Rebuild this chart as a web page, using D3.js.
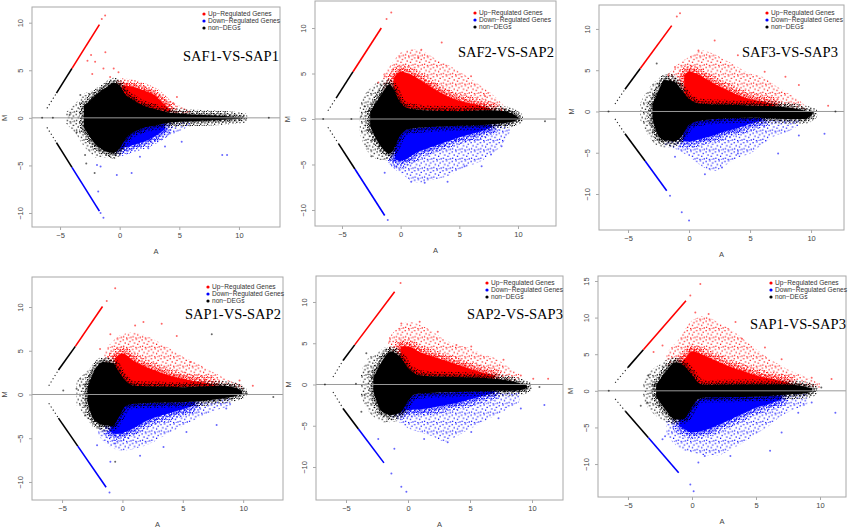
<!DOCTYPE html>
<html>
<head>
<meta charset="utf-8">
<script src="https://cdn.jsdelivr.net/npm/d3@7"></script>
<style>
body { margin: 0; background: #fff; }
.sans { font-family: "Liberation Sans", Arial, sans-serif; }
.serif { font-family: "Liberation Serif", "Times New Roman", serif; }
</style>
</head>
<body>
<svg id="chart" width="850" height="532"></svg>
<script>
// ---- data ----
var titles = ['SAF1-VS-SAP1', 'SAF2-VS-SAP2', 'SAF3-VS-SAP3', 'SAP1-VS-SAP2', 'SAP2-VS-SAP3', 'SAP1-VS-SAP3'];
var legendLabels = ['Up\u2212Regulated Genes', 'Down\u2212Regulated Genes', 'non\u2212DEGs'];
var xTicks = [-5, 0, 5, 10];
var yTicks = [
    [-10, -5, 0, 5, 10], [-10, -5, 0, 5, 10], [-10, -5, 0, 5, 10],
    [-10, -5, 0, 5, 10], [-10, -5, 0, 5, 10], [-10, -5, 0, 5, 10, 15]
];
var xDomains = [[-7.35, 13.44], [-7.3, 13.24], [-7.38, 12.7], [-7.49, 13.3], [-7.42, 12.5], [-7.34, 12.03]];
var yDomains = [[-11.47, 11.65], [-11.76, 12.97], [-14.36, 12.9], [-12.06, 13.43], [-14.0, 13.15], [-14.5, 15.68]];

// envelopes: [A, lower M, upper M]
var blackCore = [
    [[-3,-1.0,1.2],[-2.5,-2.0,1.8],[-2,-2.8,2.4],[-1.5,-3.3,2.9],[-1,-3.6,3.3],[-0.5,-3.7,3.7],[0,-3.2,3.4],[0.5,-2.2,2.4],[1,-1.6,2.0],[1.5,-1.3,1.6],[2,-1.05,1.3],[3,-0.8,0.9],[4,-0.55,0.6],[5,-0.42,0.47],[7,-0.3,0.3],[9,-0.17,0.18],[10.3,-0.03,0.03]],
    [[-2.6,-0.8,0.8],[-2.0,-2.4,2.0],[-1.5,-3.3,3.0],[-1.0,-3.8,3.8],[-0.6,-3.4,3.3],[-0.2,-2.2,2.2],[0.3,-1.3,1.4],[1,-1.05,1.1],[3,-0.85,0.9],[5,-0.75,0.85],[7,-0.65,0.95],[8.5,-0.5,0.9],[9.5,-0.3,0.6],[10,-0.05,0.2]],
    [[-3,-0.8,0.8],[-2.5,-3.0,2.5],[-2,-3.5,3.8],[-1.2,-3.6,3.6],[-0.6,-3.0,2.6],[0,-1.6,1.5],[1,-1.1,0.93],[3,-0.85,0.8],[5,-0.75,0.73],[8,-0.9,0.5],[9.5,-0.9,0.1],[10.1,-0.4,-0.1]],
    [[-2.9,-0.8,0.8],[-2.4,-2.8,2.5],[-1.6,-3.5,3.7],[-0.8,-3.6,3.6],[-0.3,-2.6,2.6],[0.3,-1.3,1.5],[1,-1.07,1.0],[3,-0.95,0.9],[5,-0.88,0.84],[7,-0.7,0.95],[8,-0.5,1.0],[9.3,-0.2,0.8],[9.9,0.1,0.4]],
    [[-2.8,-0.8,0.8],[-2.15,-3.2,2.7],[-1.35,-3.7,4.0],[-0.6,-3.4,3.3],[0,-2.0,2.0],[0.5,-1.2,1.4],[1,-1.1,1.1],[4,-0.9,0.9],[7,-0.75,0.7],[8.5,-0.75,0.35],[9.3,-0.6,0.0],[9.6,-0.4,-0.15]],
    [[-2.8,-0.8,0.8],[-2.1,-2.5,2.5],[-1.3,-3.9,3.9],[-0.6,-3.8,3.4],[0,-2.2,2.2],[0.5,-1.1,1.1],[1,-0.9,0.8],[4,-0.85,0.85],[6,-0.7,0.85],[8,-0.45,0.8],[9,-0.3,0.5],[9.4,-0.1,0.3]]
];
var blackHalo = [
    [[-4.5,-0.6,0.6],[-3.5,-2.0,1.8],[-3,-3.0,2.5],[-2.5,-3.6,2.8],[-2,-4.2,3.0],[-1,-4.2,3.8],[-0.5,-4.3,4.0],[0,-4.0,3.8],[0.5,-3.0,3.0],[1,-2.0,2.2],[2,-1.3,1.5],[4,-0.7,0.7],[7,-0.4,0.4],[10.6,-0.05,0.05]],
    [[-3.5,-1.5,1.5],[-3,-3.2,2.8],[-2.5,-4.0,3.5],[-2,-4.4,4.0],[-1,-4.6,4.5],[-0.3,-4.0,4.0],[0.5,-1.6,1.8],[2,-1.1,1.2],[9,-0.6,1.1],[10.3,-0.2,0.5]],
    [[-4,-1,1],[-3.3,-3.0,2.8],[-2.5,-4.2,4.0],[-1.5,-4.4,4.6],[-0.5,-3.6,3.5],[0.5,-1.6,1.5],[2,-1.0,0.95],[9,-1.1,0.6],[10.3,-0.6,0.1]],
    [[-3.8,-1.2,1.5],[-3,-2.6,2.6],[-2.5,-3.6,3.2],[-1.8,-4.2,4.0],[-1,-4.3,4.2],[-0.3,-3.6,3.4],[0.5,-1.5,1.7],[2,-1.1,1.0],[8,-0.6,1.2],[10.2,0,0.6]],
    [[-3.8,-1.5,1.5],[-3.2,-3.2,3.2],[-2.5,-4.2,3.8],[-1.8,-4.6,4.5],[-1,-4.5,4.5],[-0.3,-3.6,3.6],[0.5,-1.4,1.6],[2,-1.0,1.0],[8,-0.9,0.6],[9.9,-0.5,0]],
    [[-3.8,-1.4,1.4],[-3.2,-2.8,2.8],[-2.5,-3.8,3.6],[-1.8,-4.4,4.4],[-1,-4.6,4.6],[-0.3,-4.0,4.0],[0.5,-1.5,1.5],[2,-1.0,1.0],[8,-0.6,1.0],[9.8,-0.2,0.4]]
];
var redCore = [
    [[0.2,2.6,3.4],[1,1.9,3.3],[2,1.25,2.9],[3,0.9,2.3],[3.6,0.75,1.6],[4.2,0.6,0.9]],
    [[-0.6,2.5,4.5],[0,1.4,5.2],[1,1.1,4.8],[2,1.0,4.0],[3,0.9,3.2],[4,0.85,2.5],[5,0.85,2.0],[6,0.9,1.7],[7,0.95,1.4],[7.8,0.95,1.05]],
    [[-0.4,2.0,4.3],[0,1.4,4.8],[1,0.95,4.3],[2,0.85,3.4],[3,0.8,2.7],[4,0.77,2.0],[5,0.73,1.5],[6,0.7,1.2],[7,0.6,0.9]],
    [[-0.6,2.7,4.2],[0,1.5,4.7],[1,1.0,3.8],[2,0.95,3.1],[3,0.9,2.6],[4,0.87,2.1],[5,0.84,1.8],[6,0.9,1.5],[7,0.95,1.3],[7.6,1.0,1.1]],
    [[-0.6,2.5,4.6],[0,1.6,4.6],[1,1.1,3.9],[2,1.0,3.4],[3,0.95,2.9],[4,0.9,2.4],[5,0.85,1.9],[6,0.8,1.45],[7,0.7,1.1]],
    [[-0.8,2.8,4.0],[-0.5,2.3,4.5],[0,1.5,5.4],[1,0.85,4.8],[2,0.85,4.0],[3,0.85,3.3],[4,0.85,2.7],[5,0.85,2.1],[6,0.85,1.7],[7,0.85,1.35],[7.6,0.85,1.1]]
];
var redHalo = [
    [[-0.3,3.3,3.9],[0.3,2.4,3.8],[1,1.9,3.5],[2,1.25,3.2],[3,0.85,2.6],[4,0.6,2.0],[5,0.47,1.3],[6,0.35,0.7]],
    [[-1.5,2,5],[-0.8,2,6],[0,1.4,7.3],[1,1.1,7.7],[2,1.0,7.4],[3,0.9,6.6],[4,0.85,6.0],[5,0.85,5.2],[6,0.9,4.4],[7,0.95,3.5],[8,0.9,2.5],[9,0.7,1.2]],
    [[-1.7,3,4.6],[-1,2.5,5.6],[0,1.4,6.6],[1,0.95,7.4],[2,0.85,7.0],[3,0.8,6.2],[4,0.77,5.4],[5,0.73,4.6],[6,0.7,4.2],[7,0.6,3.2],[8,0.5,2.3],[9,0.3,1.4],[9.6,0.2,0.6]],
    [[-1.5,3.5,4.8],[-1,3.0,5.8],[0,1.5,6.9],[1,1.0,7.1],[2,0.95,6.7],[3,0.9,6.0],[4,0.87,5.2],[5,0.84,4.3],[6,0.9,3.7],[7,0.95,2.9],[8,1.0,2.2],[9,0.8,1.5],[10,0.6,1.0]],
    [[-1.6,3.8,5.6],[-1,3,6.6],[0,1.6,7.6],[1,1.1,7.2],[2,1.0,6.4],[3,0.95,5.4],[4,0.9,4.8],[5,0.85,4.4],[6,0.8,3.7],[7,0.7,3.2],[8,0.5,2.2],[9,0.2,1.2]],
    [[-2,3.5,5.2],[-1,3.0,7.1],[0,1.5,9.6],[1,0.85,10.2],[2,0.85,9.4],[3,0.85,8.4],[4,0.85,7.1],[5,0.85,5.7],[6,0.85,4.4],[7,0.85,3.4],[8,0.8,2.5],[9,0.5,1.8],[10,0.4,1.0]]
];
var blueCore = [
    [[0,-3.3,-2.2],[0.5,-3.1,-1.6],[1,-2.9,-1.4],[2,-2.5,-1.0],[3,-1.9,-0.8],[3.8,-1.2,-0.6]],
    [[-0.5,-4.4,-2.5],[0,-4.6,-1.3],[1.5,-3.6,-1.0],[3,-2.9,-0.85],[5,-2.0,-0.75],[7,-1.3,-0.65],[7.8,-0.9,-0.6]],
    [[-0.5,-3.6,-2.2],[0,-3.6,-1.5],[1,-3.3,-1.1],[2,-2.9,-0.95],[3,-2.4,-0.85],[4,-2.0,-0.8],[5,-1.5,-0.75],[6,-1.1,-0.8]],
    [[-1,-4.3,-3.0],[-0.5,-4.5,-2.4],[0,-4.4,-1.3],[1,-3.8,-1.07],[2,-3.0,-1.0],[3,-2.5,-0.95],[4,-2.1,-0.9],[5,-1.7,-0.88],[6,-1.2,-0.8]],
    [[-0.5,-3.4,-2.4],[0,-3.1,-1.6],[1,-3.0,-1.1],[2,-2.8,-1.0],[3,-2.5,-0.95],[4,-2.2,-0.9],[5,-1.8,-0.85],[6,-1.4,-0.8],[7,-1.0,-0.75]],
    [[-1,-4.8,-3.6],[-0.5,-5.3,-3.0],[0,-5.7,-2.0],[1,-5.4,-0.9],[2,-4.7,-0.85],[3,-3.9,-0.85],[4,-3.1,-0.85],[5,-2.3,-0.8],[6,-1.8,-0.7],[7,-1.2,-0.6]]
];
var blueHalo = [
    [[-0.5,-3.9,-3.4],[0,-3.8,-2.2],[1,-3.4,-1.4],[2,-3.0,-1.0],[3,-2.5,-0.8],[4,-2.0,-0.55],[5,-1.4,-0.42],[6,-0.8,-0.35]],
    [[-1,-5.0,-3.5],[0,-6.0,-1.3],[1.5,-7.0,-1.0],[3,-6.6,-0.85],[4,-6.3,-0.8],[5,-5.6,-0.75],[7,-4.5,-0.65],[8.5,-3.0,-0.5],[9.3,-1.5,-0.3]],
    [[-2,-4.3,-3.4],[-1,-4.6,-3.4],[0,-5.5,-1.5],[1,-6.6,-1.1],[2,-7.2,-0.95],[3,-6.5,-0.85],[4,-5.6,-0.8],[5,-5.1,-0.75],[6,-4.0,-0.8],[7,-3.0,-0.85],[8,-2.5,-0.9],[9,-1.7,-0.9]],
    [[-2,-4.7,-3.8],[-1,-6.0,-3.6],[0,-6.4,-1.3],[1,-6.2,-1.07],[2,-5.8,-1.0],[3,-5.1,-0.95],[4,-4.3,-0.9],[5,-3.6,-0.88],[6,-2.9,-0.8],[7,-2.2,-0.7],[8,-1.7,-0.5],[9,-1.2,-0.3]],
    [[-1.5,-4.0,-3.4],[-1,-4.3,-3.2],[0,-5.3,-1.6],[1,-5.8,-1.1],[2,-6.3,-1.0],[3,-6.9,-0.95],[4,-6.2,-0.9],[5,-5.4,-0.85],[6,-4.6,-0.8],[7,-3.8,-0.75],[8,-3.0,-0.75],[9,-2.1,-0.65]],
    [[-2,-6.0,-3.9],[-1,-7.8,-3.8],[0,-8.4,-2.0],[1,-8.8,-0.9],[2,-8.8,-0.85],[3,-8.0,-0.85],[4,-7.1,-0.85],[5,-5.9,-0.8],[6,-4.8,-0.7],[7,-3.4,-0.6],[8,-2.5,-0.45],[9,-2.0,-0.3]]
];

// zero-count genes on the diagonals: [A, M] at sparse start, dense start, colour start, end
var diagUp = [
    [[-6.1,1.0],[-5.3,2.6],[-4.0,5.2],[-1.7,9.8]],
    [[-6.2,0.9],[-5.5,2.3],[-4.06,5.2],[-1.65,10.0]],
    [[-6.07,0.9],[-5.25,2.7],[-4.0,5.2],[-1.42,10.4]],
    [[-6.1,1.0],[-5.3,2.8],[-3.9,5.5],[-1.65,10.06]],
    [[-6.05,0.9],[-5.24,2.9],[-4.3,4.8],[-1.08,11.25]],
    [[-6.0,1.1],[-5.0,3.2],[-3.8,5.6],[-0.47,12.3]]
];
var diagDown = [
    [[-6.1,-1.0],[-5.3,-2.6],[-4.0,-5.2],[-1.7,-9.8]],
    [[-6.2,-0.9],[-5.3,-2.7],[-3.9,-5.5],[-1.36,-10.6]],
    [[-6.07,-0.9],[-5.25,-2.7],[-3.6,-6.0],[-1.83,-9.6]],
    [[-6.1,-1.0],[-5.3,-2.7],[-3.7,-5.9],[-1.35,-10.6]],
    [[-6.05,-0.9],[-5.24,-2.9],[-4.0,-5.4],[-1.94,-9.5]],
    [[-6.0,-1.1],[-5.2,-2.8],[-3.4,-6.4],[-1.04,-11.2]]
];

// scattered single genes: [A, M]
var redPts = [
    [[-1.22,10.75],[-1.5,10.4],[-2.4,6.6],[-1.2,6.9],[-2.06,5.9],[-2.7,6.0],[-2.3,4.6],[-1.36,5.2],[-0.5,5.2],[-0.1,4.8],[-0.8,4.3],[2.1,3.25],[3.4,1.85],[4.8,2.2],[3.1,2.2]],
    [[-0.8,11.7],[-1.2,11],[3.5,8.4],[1.76,7.6],[1.5,6.7],[6.0,4.7],[7.2,2.5],[8.0,1.4],[8.6,1.0],[-1.36,4.7],[-1.9,4.0]],
    [[-0.74,11.9],[-1.0,11.5],[2.1,8.6],[0.77,7.4],[4.0,6.8],[6.2,4.8],[7.9,4.2],[9.0,3.2],[11.4,0.7],[-1.15,5.4],[-1.7,4.4]],
    [[-1.3,10.7],[-0.6,12.15],[1.74,8.3],[3.25,8.1],[1.05,7.9],[4.5,6.7],[5.6,3.7],[9.7,1.6],[10.8,1.0],[-1.0,6.9],[-1.85,5.2]],
    [[-0.6,12.3],[0.94,7.6],[-0.54,7.4],[2.4,6.4],[3.9,4.8],[5.1,4.6],[7.7,3.0],[9.1,1.1],[10.1,0.7],[11.3,0.7],[-1.48,5.2]],
    [[-0.13,13.0],[0.65,14.6],[1.3,10.5],[0.26,10.7],[3.4,9.4],[3.9,7.1],[5.7,5.9],[7.0,4.3],[9.35,1.8],[10.9,1.6],[-2.3,6.2],[-3.0,5.3]]
];
var bluePts = [
    [[-1.9,-4.95],[-1.6,-5.1],[-0.24,-6.0],[1.0,-5.8],[-1.8,-7.75],[-1.36,-10.5],[-1.6,-10.0],[3.8,-3.0],[5.2,-2.5],[8.6,-3.9],[9.0,-3.9],[2.4,-3.2],[1.7,-4.1]],
    [[-1.36,-5.9],[0.9,-6.9],[2.05,-7.0],[4.0,-6.9],[5.45,-5.2],[6.9,-5.2],[7.7,-3.9],[8.6,-3.0],[-0.5,-5.2],[-1.1,-11.1]],
    [[-1.56,-10.2],[-0.6,-12.2],[0,-13.2],[-1.15,-5.5],[1.3,-7.6],[2.7,-6.8],[4.0,-5.1],[7.3,-5.1],[9.0,-2.9],[11.1,-2.7]],
    [[-1.07,-11.2],[-2.1,-5.8],[-1.0,-7.7],[1.46,-7.0],[3.4,-6.0],[5.3,-4.3],[7.8,-3.5],[8.6,-1.6],[-0.6,-5.6]],
    [[-1.34,-10.8],[-0.54,-12.4],[-0.13,-13.0],[-2.4,-6.6],[-1.1,-7.8],[1.3,-6.6],[3.2,-7.0],[5.1,-5.75],[7.3,-4.1],[9.1,-2.9],[11.0,-2.5]],
    [[-0.13,-12.8],[0.13,-13.7],[-2.1,-6.2],[0.5,-9.8],[1.0,-8.9],[3.0,-8.9],[6.1,-8.2],[7.0,-5.7],[8.3,-3.0],[9.35,-1.6],[11.2,-3.0],[-2.3,-6.6]]
];
var blackPts = [
    [[-2.8,-4.8],[-2.1,-5.8],[-3.6,-1.5],[-4.2,0.3],[-6.5,0],[-5.6,0],[12.5,0],[-3.3,2.4],[-2.9,-3.9]],
    [[-3.07,1.4],[-3.35,0.3],[-2.8,-1.2],[-2.9,-3.0],[-2.5,-4.1],[12.3,-0.25],[10,0.1],[-6.6,0],[-4.2,0]],
    [[-2.8,1.3],[-3.2,0.1],[-3.1,-1.5],[-2.65,-2.9],[-6.6,0],[12,0],[-2.65,5.8]],
    [[-3.5,1.8],[-3.8,0.65],[-4.9,0.45],[-3.1,-2.4],[12.5,-0.3],[10.3,0.1],[7.4,6.9],[-0.6,-7.7]],
    [[-3.2,1.5],[-3.36,3.8],[-3.5,-1.3],[-3.76,-3.3],[-6.7,0],[-4.2,0.1],[10.6,-0.3]],
    [[-3.0,0.2],[-3.4,2.05],[-3.5,-1.6],[-4.0,-2.05],[-6.5,0],[10.1,0.45]]
];

// ---- layout (pixels) ----
var frames = [[32,7,280,227],[315,1,556,226],[599,5,844,230],[32,277,283,500],[316,276,563,500],[598,276,846,497]];
var titlePos = [[183,61],[458,57],[742,57],[185,319],[467,319],[750,329]];
var legendPos = [[204,14],[475,13],[767,13],[208,287],[487,283],[771,283]];

var RED = '#ff0000', BLUE = '#0000ff', BLACK = '#000000';

var svg = d3.select('#chart');
var defs = svg.append('defs');

// speckle textures stand in for the thinly scattered genes
function speckle(id, colour, size, dots) {
    var p = defs.append('pattern')
        .attr('id', id)
        .attr('width', size).attr('height', size)
        .attr('patternUnits', 'userSpaceOnUse');
    dots.forEach(function(c) {
        p.append('rect').attr('x', c[0]).attr('y', c[1])
            .attr('width', 1.2).attr('height', 1.2).attr('fill', colour);
    });
}
var sparseDots = [[0.5,1],[4.2,0.3],[7.1,2.6],[2.4,4.1],[5.6,5.3],[0.9,7.2],[8.1,7.8],[3.8,8.4],[6.4,8.9]];
var midDots = [[0.3,0.4],[3.1,1.0],[5.2,2.7],[1.4,3.3],[4.0,4.6],[0.6,5.8],[2.8,6.1],[5.6,6.3]];
var denseDots = [[0.3,0.4],[2.6,1.2],[1.2,2.8],[3.6,3.4],[0.2,4.3],[2.2,4.9],[3.9,0.1]];
speckle('spRed', RED, 9.4, sparseDots);
speckle('spBlue', BLUE, 9.4, sparseDots);
speckle('spBlack', BLACK, 9.4, sparseDots);
speckle('mdRed', RED, 7, midDots);
speckle('mdBlue', BLUE, 7, midDots);
speckle('mdBlack', BLACK, 7, midDots);
speckle('dnRed', RED, 5, denseDots);
speckle('dnBlue', BLUE, 5, denseDots);
speckle('dnBlack', BLACK, 5, denseDots);

titles.forEach(function(title, i)
{
    var f = frames[i];
    var x = d3.scaleLinear().domain(xDomains[i]).range([f[0], f[2]]);
    var y = d3.scaleLinear().domain(yDomains[i]).range([f[3], f[1]]);

    var g = svg.append('g');
    defs.append('clipPath').attr('id', 'clip' + i)
        .append('rect').attr('x', f[0]).attr('y', f[1])
        .attr('width', f[2] - f[0]).attr('height', f[3] - f[1]);
    var plot = g.append('g').attr('clip-path', 'url(#clip' + i + ')');

    var area = d3.area()
        .x(function(d) { return x(d[0]); })
        .y0(function(d) { return y(d[1]); })
        .y1(function(d) { return y(d[2]); })
        .curve(d3.curveMonotoneX);

    plot.append('path').attr('d', area(redHalo[i])).attr('fill', 'url(#spRed)');
    plot.append('path').attr('d', area(blueHalo[i])).attr('fill', 'url(#spBlue)');
    plot.append('path').attr('d', area(blackHalo[i])).attr('fill', 'url(#spBlack)');

    // speckled fringes fade each dense core into its halo
    function core(env, colour, tag, wide, narrow) {
        plot.append('path').attr('d', area(env)).attr('fill', 'none')
            .attr('stroke', 'url(#md' + tag + ')').attr('stroke-width', wide)
            .attr('stroke-linejoin', 'round');
        plot.append('path').attr('d', area(env)).attr('fill', 'none')
            .attr('stroke', 'url(#dn' + tag + ')').attr('stroke-width', narrow)
            .attr('stroke-linejoin', 'round');
        plot.append('path').attr('d', area(env)).attr('fill', colour);
    }
    core(redCore[i], RED, 'Red', 14, 7);
    core(blueCore[i], BLUE, 'Blue', 14, 7);
    core(blackCore[i], BLACK, 'Black', 10, 5);

    // M = 0 reference line
    plot.append('line')
        .attr('x1', f[0]).attr('x2', f[2])
        .attr('y1', y(0)).attr('y2', y(0))
        .attr('stroke', '#9a9a9a').attr('stroke-width', 1);

    // diagonals
    [[diagUp[i], RED], [diagDown[i], BLUE]].forEach(function(dg) {
        var pts = dg[0];
        plot.append('line')
            .attr('x1', x(pts[0][0])).attr('y1', y(pts[0][1]))
            .attr('x2', x(pts[1][0])).attr('y2', y(pts[1][1]))
            .attr('stroke', '#222').attr('stroke-width', 1.1)
            .attr('stroke-dasharray', '1.2,2.6');
        plot.append('line')
            .attr('x1', x(pts[1][0])).attr('y1', y(pts[1][1]))
            .attr('x2', x(pts[2][0])).attr('y2', y(pts[2][1]))
            .attr('stroke', BLACK).attr('stroke-width', 1.6);
        plot.append('line')
            .attr('x1', x(pts[2][0])).attr('y1', y(pts[2][1]))
            .attr('x2', x(pts[3][0])).attr('y2', y(pts[3][1]))
            .attr('stroke', dg[1]).attr('stroke-width', 1.6);
    });

    [[redPts[i], RED], [bluePts[i], BLUE], [blackPts[i], BLACK]].forEach(function(s) {
        plot.selectAll(null)
            .data(s[0])
            .enter()
            .append('circle')
            .attr('cx', function(d) { return x(d[0]); })
            .attr('cy', function(d) { return y(d[1]); })
            .attr('r', 1.0)
            .attr('fill', s[1])
            .attr('opacity', 0.6);
    });

    // frame
    g.append('rect')
        .attr('x', f[0]).attr('y', f[1])
        .attr('width', f[2] - f[0]).attr('height', f[3] - f[1])
        .attr('fill', 'none').attr('stroke', '#a8a8a8').attr('stroke-width', 1);

    // axes
    var xAxis = g.append('g')
        .attr('transform', 'translate(0,' + f[3] + ')')
        .call(d3.axisBottom(x).tickValues(xTicks).tickSize(3).tickPadding(3));
    var yAxis = g.append('g')
        .attr('transform', 'translate(' + f[0] + ',0)')
        .call(d3.axisLeft(y).tickValues(yTicks[i]).tickSize(3).tickPadding(3));
    [xAxis, yAxis].forEach(function(a) {
        a.select('.domain').remove();
        a.selectAll('line').attr('stroke', '#a8a8a8');
        a.selectAll('text').attr('fill', '#444').attr('font-size', 7.5)
            .attr('class', 'sans');
    });
    yAxis.selectAll('text')
        .attr('text-anchor', 'middle')
        .attr('dy', 0)
        .attr('transform', 'translate(-9,0) rotate(-90)')
        .attr('x', 0).attr('y', 0);

    g.append('text')
        .attr('class', 'sans')
        .attr('x', (f[0] + f[2]) / 2).attr('y', f[3] + 27)
        .attr('text-anchor', 'middle')
        .attr('font-size', 7.5).attr('fill', '#444')
        .text('A');
    g.append('text')
        .attr('class', 'sans')
        .attr('transform', 'translate(' + (f[0] - 25) + ',' + y(0) + ') rotate(-90)')
        .attr('text-anchor', 'middle')
        .attr('font-size', 7.5).attr('fill', '#444')
        .text('M');

    // legend
    var lp = legendPos[i];
    [RED, BLUE, BLACK].forEach(function(c, k) {
        g.append('circle')
            .attr('cx', lp[0]).attr('cy', lp[1] + k * 7)
            .attr('r', 1.6).attr('fill', c);
        g.append('text')
            .attr('class', 'sans')
            .attr('x', lp[0] + 4).attr('y', lp[1] + k * 7 + 2.3)
            .attr('font-size', 6.6).attr('fill', '#333')
            .text(legendLabels[k]);
    });

    g.append('text')
        .attr('class', 'serif')
        .attr('x', titlePos[i][0]).attr('y', titlePos[i][1])
        .attr('font-size', 14.5)
        .attr('fill', '#000')
        .text(title);
});
</script>
</body>
</html>
